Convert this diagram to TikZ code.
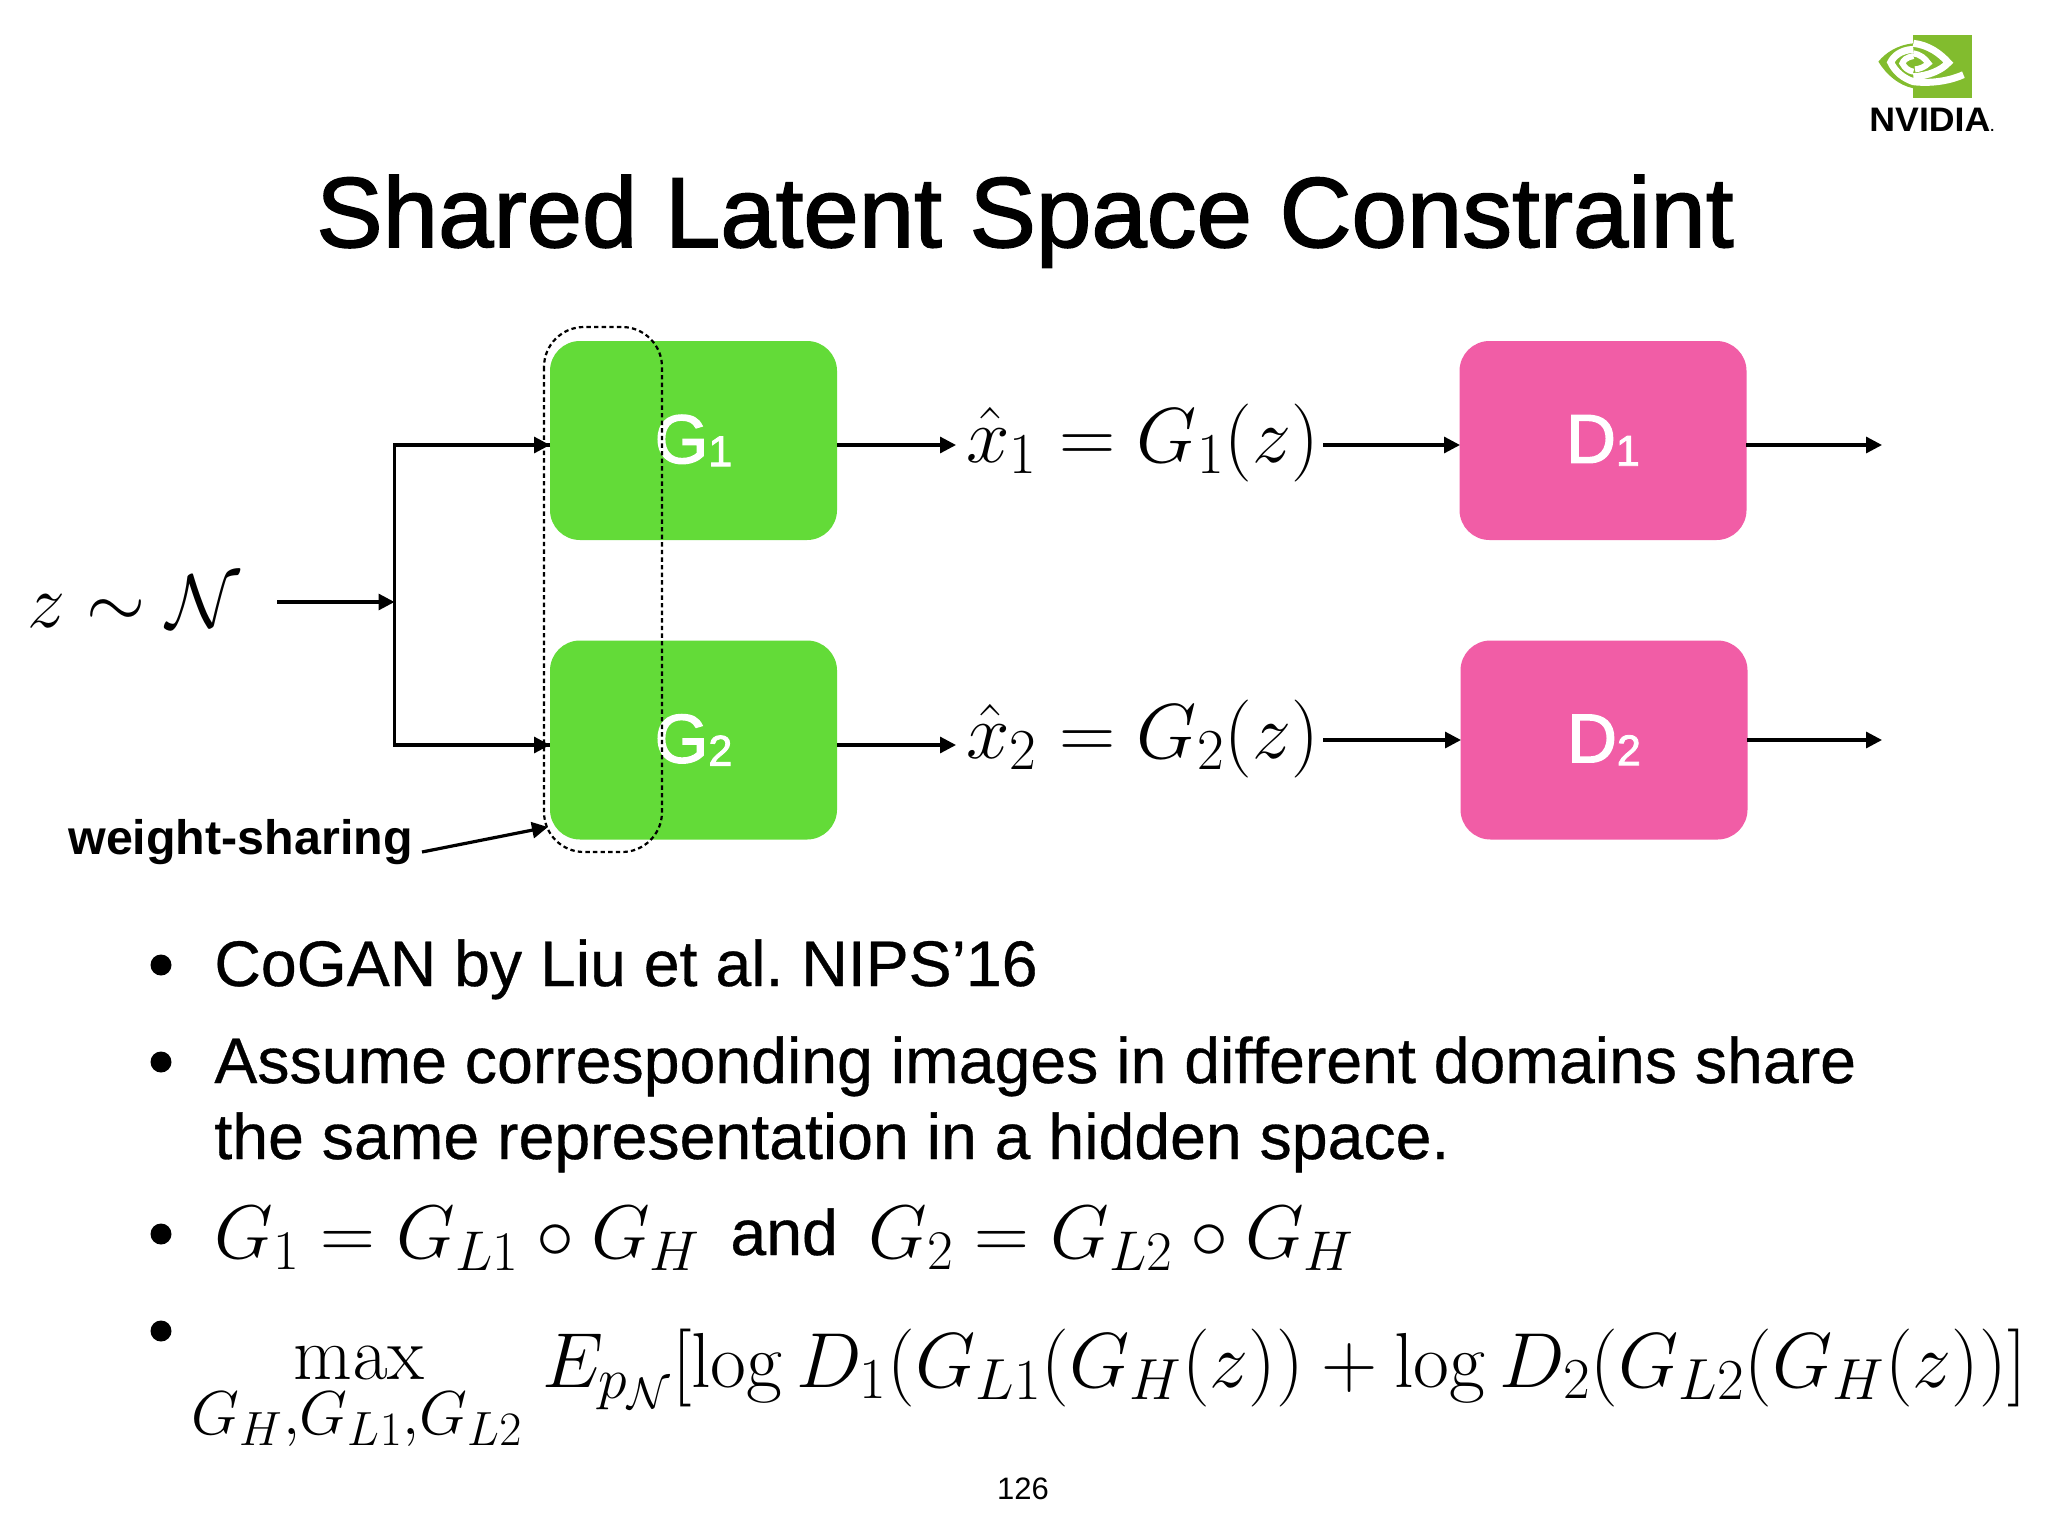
\documentclass[tikz,border=0pt]{standalone}
\usepackage{fix-cm}
\usepackage{amsmath}
\usepackage[no-math]{fontspec}
\setmainfont{Liberation Sans}
\newfontfamily\medfont[FakeBold=1.6]{Liberation Sans}
\newfontfamily\labfont[FakeBold=2]{Liberation Sans}
\newfontfamily\txtfont[FakeBold=0.5]{Liberation Sans}
\usetikzlibrary{arrows.meta}
\definecolor{gbox}{HTML}{63DB38}
\definecolor{pbox}{HTML}{F15DA6}
\definecolor{nv}{HTML}{82BC2E}
\newcommand{\fs}[1]{\fontsize{#1}{#1}\selectfont}
\DeclareMathSizes{38}{38}{28}{22}
\DeclareMathSizes{39}{39}{29}{22}
\DeclareMathSizes{44}{44}{31}{24}
\frenchspacing
\tikzset{
  x=0.5pt,y=-0.5pt,
  gen/.style={fill=gbox,rounded corners=15pt,minimum width=143.5pt,minimum height=99.5pt,inner sep=0,text=white,font=\labfont\fs{34.5}},
  dis/.style={fill=pbox,rounded corners=15pt,minimum width=143.5pt,minimum height=99.5pt,inner sep=0,text=white,font=\labfont\fs{34.5}},
  wire/.style={line width=1.6pt},
  arrowed/.style={line width=1.6pt,-{Triangle[length=8pt,width=8pt]}},
  eqn/.style={inner sep=0,anchor=base west,font=\fs{38}},
  eqnb/.style={inner sep=0,anchor=base west,font=\fs{39}},
  bullettext/.style={inner sep=0,anchor=base west,font=\txtfont\fs{32.2}},
  dot/.style={circle,fill=black,inner sep=0,minimum size=10.5pt},
}
\begin{document}
\begin{tikzpicture}
\useasboundingbox (0,0) rectangle (2048,1536);
\fill[white] (0,0) rectangle (2048,1536);
% logo
\begin{scope}[shift={(1800,0)},x=0.1667pt,y=-0.1667pt]
\fill[nv] (340,105) rectangle (517,293);
\fill[nv] (340,130) .. controls (290,135) and (255,160) .. (235,185) .. controls (260,225) and (295,255) .. (340,265) -- cycle;
\draw[white,line width=3.5pt] (340,148) .. controls (300,150) and (280,170) .. (272,187) .. controls (285,215) and (310,235) .. (340,245) .. controls (400,252) and (455,240) .. (490,224);
\draw[white,line width=3.5pt] (340,130) .. controls (385,135) and (420,160) .. (445,188) .. controls (425,210) and (385,228) .. (340,230);
\draw[white,line width=3pt] (340,168) .. controls (320,172) and (310,180) .. (307,190) .. controls (315,205) and (325,212) .. (340,215);
\draw[white,line width=3pt] (340,160) .. controls (360,163) and (375,175) .. (385,190) .. controls (375,200) and (360,207) .. (345,208);
\end{scope}
\node[inner sep=0,anchor=base west,font=\bfseries\fs{17}] (nvlogo) at (1869,132) {\scalebox{1.05}[1]{NVIDIA}{\fs{7}.}};
% title
\node[inner sep=0,anchor=base,font=\medfont\fs{49.8}] (title) at (1025,247) {Shared Latent Space Constraint};
% boxes
\node[gen] (g1) at (693.5,440.5) {\raisebox{-2pt}{G\raisebox{-1.5pt}{\fs{21.5}1}}};
\node[gen] (g2) at (693.5,740) {\raisebox{-2pt}{G\raisebox{-1.5pt}{\fs{21.5}2}}};
\node[dis] (d1) at (1603,440.5) {\raisebox{-2pt}{D\raisebox{-1.5pt}{\fs{21.5}1}}};
\node[dis] (d2) at (1604,740) {\raisebox{-2pt}{D\raisebox{-1.5pt}{\fs{21.5}2}}};
% equations
\node[eqn] (zn) at (27,627) {$z\sim\mathcal{N}$};
\node[eqnb] (x1) at (966,462) {$\hat{x}_1=G_1(z)$};
\node[eqnb] (x2) at (966,758) {$\hat{x}_2=G_2(z)$};
% coordinates
\coordinate (zstart) at (277,602);
\coordinate (branch) at (394.5,602);
\coordinate (top) at (394.5,445);
\coordinate (bot) at (394.5,745);
\coordinate (x1in) at (956,445);
\coordinate (x2in) at (956,745);
\coordinate (x1out) at (1323,445);
\coordinate (x2out) at (1323,740);
\coordinate (d1end) at (1882,445);
\coordinate (d2end) at (1882,740);
\coordinate (g1w) at (550,445);
\coordinate (g2w) at (550,745);
\coordinate (g1e) at (837,445);
\coordinate (g2e) at (837,745);
\coordinate (d1w) at (1460,445);
\coordinate (d2w) at (1461,740);
\coordinate (d1e) at (1746,445);
\coordinate (d2e) at (1747,740);
% connectors
\draw[arrowed] (zstart) -- (branch);
\draw[wire,line join=miter] (g1w) -- (top) -- (bot) -- (g2w);
\draw[arrowed] (top) -- (g1w);
\draw[arrowed] (bot) -- (g2w);
\draw[arrowed] (g1e) -- (x1in);
\draw[arrowed] (g2e) -- (x2in);
\draw[arrowed] (x1out) -- (d1w);
\draw[arrowed] (x2out) -- (d2w);
\draw[arrowed] (d1e) -- (d1end);
\draw[arrowed] (d2e) -- (d2end);
% dotted group
\draw[line width=1.1pt,dash pattern=on 2.2pt off 1.6pt,rounded corners=20pt] (544,327) rectangle (662,852);
% weight sharing
\node[inner sep=0,anchor=base west,font=\bfseries\fs{24.2}] (ws) at (68,854) {weight-sharing};
\coordinate (wstip) at (548,827);
\draw[arrowed] (422,852) -- (wstip);
% bullets
\node[dot] (b1) at (161,965) {};
\node[dot] (b2) at (161,1062) {};
\node[dot] (b3) at (161,1234) {};
\node[dot] (b4) at (161,1331) {};
\node[bullettext] (t1) at (214,986) {CoGAN by Liu et al. NIPS’16};
\node[bullettext] (t2) at (214,1083) {Assume corresponding images in different domains share};
\node[bullettext] (t3) at (214,1159) {the same representation in a hidden space.};
\node[eqn] (m1) at (214,1258) {$G_1=G_{L1}\circ G_H$};
\node[bullettext] (and) at (730,1255) {and};
\node[eqn] (m2) at (868,1258) {$G_2=G_{L2}\circ G_H$};
\node[inner sep=0,anchor=base,font=\fs{38}] (mx) at (359,1379) {$\max$};
\node[inner sep=0,anchor=base,font=\fs{44}] (mxs) at (357,1434) {$\scriptstyle G_H,G_{L1},G_{L2}$};
\node[eqnb] (obj) at (542,1387) {$E_{p_{\mathcal{N}}}[\log D_1(G_{L1}(G_H(z))+\log D_2(G_{L2}(G_H(z))]$};
\node[inner sep=0,anchor=base,font=\fs{15.5}] (pg) at (1023,1499) {126};
\end{tikzpicture}
\end{document}
